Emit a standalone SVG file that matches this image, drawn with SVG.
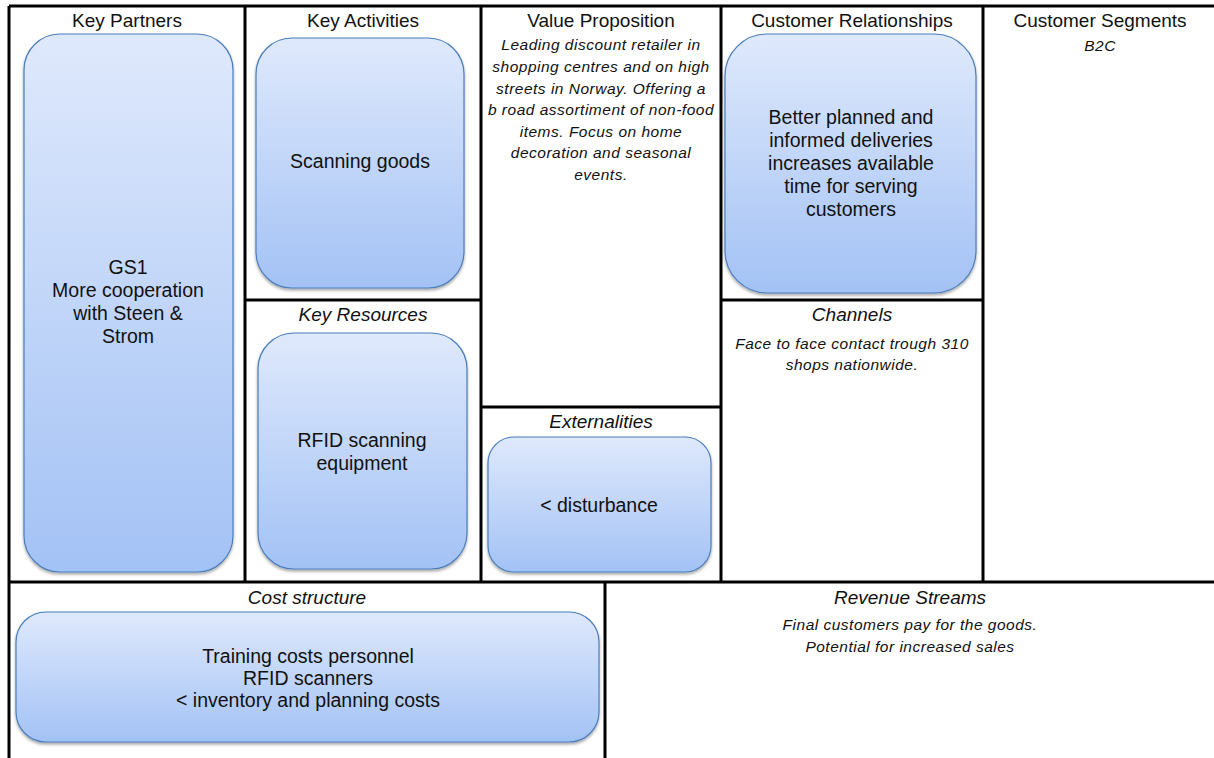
<svg xmlns="http://www.w3.org/2000/svg" width="1214" height="758" viewBox="0 0 1214 758">
<defs>
<linearGradient id="g" x1="0" y1="0" x2="0" y2="1">
<stop offset="0" stop-color="#dfe9fc"/>
<stop offset="1" stop-color="#a3c2f5"/>
</linearGradient>
<filter id="sh" x="-5%" y="-5%" width="110%" height="112%">
<feDropShadow dx="0" dy="2" stdDeviation="1.8" flood-color="#000" flood-opacity="0.35"/>
</filter>
<style>
.box{fill:url(#g);stroke:#4a7ebb;stroke-width:1.2;filter:url(#sh)}
.ln{stroke:#000;stroke-width:3;fill:none}
text{font-family:"Liberation Sans",Arial,sans-serif;fill:#111;text-anchor:middle}
.h{font-size:19px}
.hi{font-size:19px;font-style:italic}
.b{font-size:19.5px}
.i{font-size:15.5px;font-style:italic;letter-spacing:0.5px}
</style>
</defs>
<rect width="1214" height="758" fill="#fff"/>
<g id="grid">
<path class="ln" d="M9 6H1214M9 6V758M245 6V582M481 6V582M721 6V582M983 6V582M9 582H1214M245 300H481M721 300H983M481 407H721M605 582V758"/>
</g>
<g id="key-partners">
<text class="h" x="127" y="27">Key Partners</text>
<rect class="box" x="24" y="34" width="209" height="538" rx="36"/>
<text class="b" x="128" y="274">GS1</text>
<text class="b" x="128" y="297">More cooperation</text>
<text class="b" x="128" y="320">with Steen &amp;</text>
<text class="b" x="128" y="343">Strom</text>
</g>
<g id="key-activities">
<text class="h" x="363" y="27">Key Activities</text>
<rect class="box" x="256" y="38" width="208" height="250" rx="36"/>
<text class="b" x="360" y="168">Scanning goods</text>
</g>
<g id="key-resources">
<text class="hi" x="363" y="321">Key Resources</text>
<rect class="box" x="258" y="333" width="209" height="236" rx="36"/>
<text class="b" x="362" y="447">RFID scanning</text>
<text class="b" x="362" y="470">equipment</text>
</g>
<g id="value-proposition">
<text class="h" x="601" y="27">Value Proposition</text>
<text class="i" x="601" y="50">Leading discount retailer in</text>
<text class="i" x="601" y="72">shopping centres and on high</text>
<text class="i" x="601" y="94">streets in Norway. Offering a</text>
<text class="i" x="601" y="115">b road assortiment of non-food</text>
<text class="i" x="601" y="137">items. Focus on home</text>
<text class="i" x="601" y="158">decoration and seasonal</text>
<text class="i" x="601" y="180">events.</text>
</g>
<g id="externalities">
<text class="hi" x="601" y="428">Externalities</text>
<rect class="box" x="488" y="437" width="223" height="135" rx="26"/>
<text class="b" x="599" y="512">&lt; disturbance</text>
</g>
<g id="customer-relationships">
<text class="h" x="852" y="27">Customer Relationships</text>
<rect class="box" x="725" y="34" width="251" height="259" rx="42"/>
<text class="b" x="851" y="124">Better planned and</text>
<text class="b" x="851" y="147">informed deliveries</text>
<text class="b" x="851" y="170">increases available</text>
<text class="b" x="851" y="193">time for serving</text>
<text class="b" x="851" y="216">customers</text>
</g>
<g id="channels">
<text class="hi" x="852" y="321">Channels</text>
<text class="i" x="852" y="349">Face to face contact trough 310</text>
<text class="i" x="852" y="370">shops nationwide.</text>
</g>
<g id="customer-segments">
<text class="h" x="1100" y="27">Customer Segments</text>
<text class="i" x="1100" y="51">B2C</text>
</g>
<g id="cost-structure">
<text class="hi" x="307" y="604">Cost structure</text>
<rect class="box" x="16" y="612" width="583" height="130" rx="30"/>
<text class="b" x="308" y="663">Training costs personnel</text>
<text class="b" x="308" y="685">RFID scanners</text>
<text class="b" x="308" y="707">&lt; inventory and planning costs</text>
</g>
<g id="revenue-streams">
<text class="hi" x="910" y="604">Revenue Streams</text>
<text class="i" x="910" y="630">Final customers pay for the goods.</text>
<text class="i" x="910" y="652">Potential for increased sales</text>
</g>
</svg>
